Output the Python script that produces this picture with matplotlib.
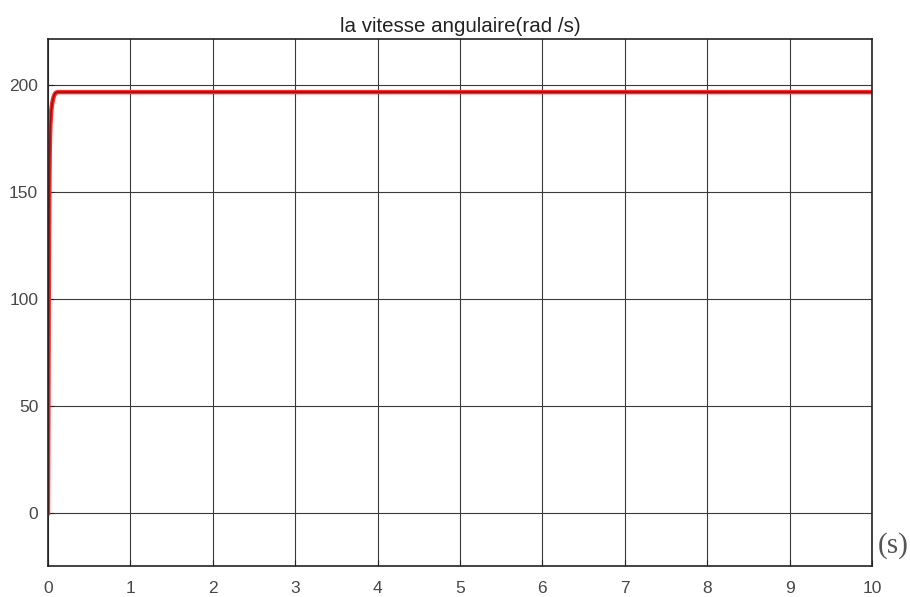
import numpy as np
import matplotlib
matplotlib.use('Agg')
import matplotlib.pyplot as plt

plt.rcParams['font.family'] = ['Liberation Sans', 'DejaVu Sans']

# speed response (time in s, speed in rad/s)
t = [0, 0.004, 0.008, 0.012, 0.016, 0.02, 0.025, 0.03, 0.04, 0.05, 0.06,
     0.07, 0.08, 0.09, 0.1, 0.12, 0.15, 10]
w = [0, 40, 85, 125, 150, 165, 176, 182, 188, 191, 193,
     194.5, 195.5, 196.1, 196.4, 196.6, 196.6, 196.6]

x_ticks = list(range(0, 11))
y_ticks = [0, 50, 100, 150, 200]

fig = plt.figure(figsize=(9.1, 5.97), dpi=100)
ax = fig.add_axes([0.0527, 0.0519, 0.9055, 0.8828])

ax.plot(t, w, color='#ff2a2a', lw=3.2, solid_joinstyle='round')
ax.plot(t, w, color='#a01010', lw=1.2)

ax.set_xlim(0, 10)
ax.set_ylim(-24.7, 221.4)
ax.set_xticks(x_ticks)
ax.set_yticks(y_ticks)
ax.grid(True, color='#3a3a3a', lw=0.8)
ax.set_axisbelow(True)
ax.tick_params(direction='in', length=4, color='#222222', labelsize=12.5,
               labelcolor='#484848')
ax.tick_params(axis='x', pad=11)
ax.tick_params(axis='y', pad=7)
for s in ax.spines.values():
    s.set_color('#222222')
    s.set_linewidth(1.2)

ax.set_title("la vitesse angulaire(rad /s)", fontsize=14.8, color='#222222', pad=5)
fig.text(0.981, 0.087, "(s)", family='Liberation Serif', fontsize=21,
         color='#555555', ha='center', va='center')

fig.savefig('out.png', dpi=100)
